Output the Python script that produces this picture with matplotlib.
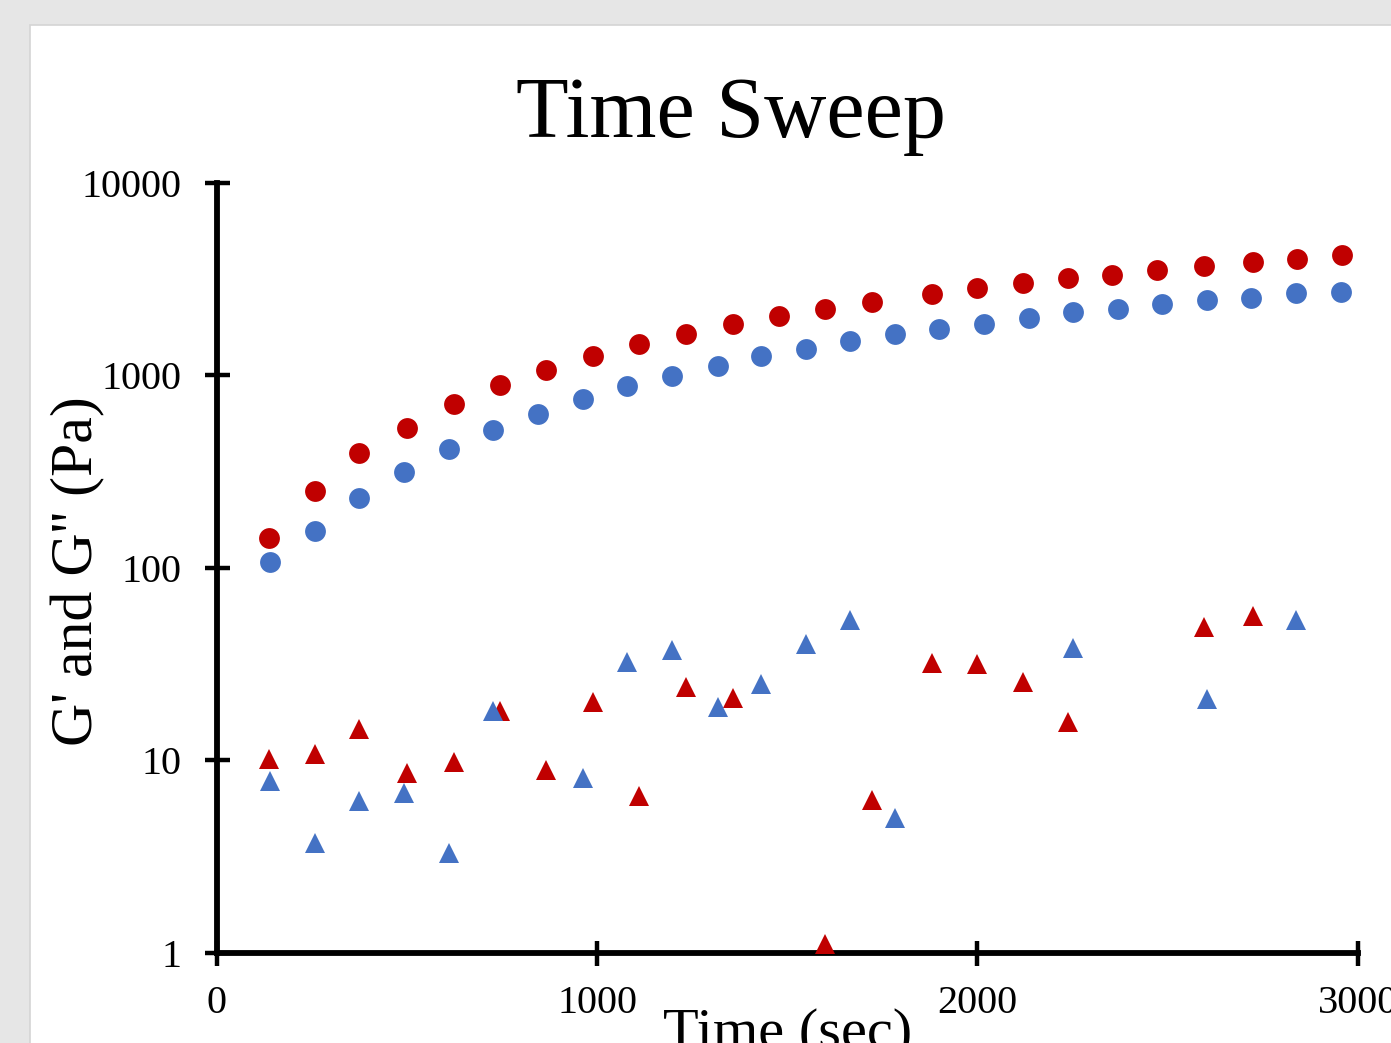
import numpy as np
import matplotlib
matplotlib.use('Agg')
import matplotlib.pyplot as plt
from matplotlib.patches import Rectangle
from matplotlib.ticker import NullLocator, FixedLocator, FixedFormatter

nan = np.nan

# ---- data ----
time_red = [138, 258, 375, 500, 623, 744, 865, 989, 1111, 1234, 1357, 1478,
            1600, 1723, 1880, 2000, 2121, 2238, 2355, 2473, 2595, 2724, 2841, 2960]
gp_red = [143, 250, 394, 534, 711, 889, 1069, 1262, 1452, 1643, 1838, 2031,
          2215, 2400, 2650, 2850, 3025, 3200, 3327, 3520, 3692, 3889, 4030, 4197]
gpp_red = [10.1, 10.8, 14.6, 8.6, 9.8, 18.1, 8.9, 20.1, 6.5, 24.1, 21.1, nan,
           1.11, 6.2, 32.1, 31.5, 25.5, 15.8, nan, nan, 49.4, 55.9, nan, nan]

time_blue = [139, 258, 375, 493, 611, 727, 846, 963, 1080, 1198, 1317, 1432,
             1550, 1666, 1784, 1900, 2018, 2136, 2252, 2370, 2486, 2604, 2720, 2839, 2956]
gp_blue = [107, 156, 229, 314, 414, 521, 626, 750, 879, 994, 1120, 1253,
           1373, 1506, 1637, 1745, 1852, 1990, 2130, 2207, 2343, 2466, 2528, 2673, 2716]
gpp_blue = [7.8, 3.72, 6.14, 6.77, 3.30, 18.1, nan, 8.08, 32.4, 37.5, 18.9, 24.9,
            40.2, 53.6, 5.02, nan, nan, nan, 38.4, nan, nan, 20.8, nan, 53.5, nan]

x_ticks = [0, 1000, 2000, 3000]
x_tick_labels = ['0', '1000', '2000', '3000']
y_ticks = [1, 10, 100, 1000, 10000]
y_tick_labels = ['1', '10', '100', '1000', '10000']

title = 'Time Sweep'
xlabel = 'Time (sec)'
ylabel = "G' and G'' (Pa)"

RED = '#C00000'
BLUE = '#4472C4'
FONT = 'Liberation Serif'

W, H = 1391, 1043
fig = plt.figure(figsize=(W / 100, H / 100), dpi=100)
fig.patch.set_facecolor('#e6e6e6')
fig.patches.append(Rectangle((30 / W, -0.1), 1.2, 1 - 25 / H + 0.1,
                             transform=fig.transFigure, facecolor='white',
                             edgecolor='#d4d4d4', linewidth=1.2, zorder=-5))

x0, x1 = 216.7, 1357.7
ytop, ybot = 182.7, 952.7
ax = fig.add_axes([x0 / W, 1 - ybot / H, (x1 - x0) / W, (ybot - ytop) / H])
ax.set_facecolor('none')
ax.set_zorder(2)

ms = 15
ax.plot(time_red, gp_red, 'o', color=RED, ms=ms, mew=0, clip_on=False, zorder=5)
ax.plot(time_red, gpp_red, '^', color=RED, ms=ms, mew=0, clip_on=False, zorder=5)
ax.plot(time_blue, gp_blue, 'o', color=BLUE, ms=ms, mew=0, clip_on=False, zorder=6)
ax.plot(time_blue, gpp_blue, '^', color=BLUE, ms=ms, mew=0, clip_on=False, zorder=6)

ax.set_yscale('log')
ax.set_xlim(0, 3000)
ax.set_ylim(1, 10000)
ax.yaxis.set_major_locator(FixedLocator(y_ticks))
ax.yaxis.set_major_formatter(FixedFormatter(y_tick_labels))
ax.yaxis.set_minor_locator(NullLocator())
ax.xaxis.set_major_locator(FixedLocator(x_ticks))
ax.xaxis.set_major_formatter(FixedFormatter(x_tick_labels))

for s in ['top', 'right']:
    ax.spines[s].set_visible(False)
for s in ['left', 'bottom']:
    ax.spines[s].set_linewidth(4.2)
    ax.spines[s].set_color('black')

ax.tick_params(axis='both', direction='inout', length=18, width=3.2, color='black')
ax.tick_params(axis='y', pad=16)
ax.tick_params(axis='x', pad=14)
for lab in ax.get_xticklabels() + ax.get_yticklabels():
    lab.set_fontfamily(FONT)
    lab.set_fontsize(29)

fig.text(731 / W, 1 - 137 / H, title, fontsize=62, family=FONT,
         ha='center', va='baseline')
fig.text((x0 + x1) / 2 / W, 1 - 1048 / H, xlabel, fontsize=42, family=FONT,
         ha='center', va='baseline')
fig.text(78 / W, 1 - 571 / H, ylabel, fontsize=43, family=FONT,
         ha='center', va='center', rotation=90)

fig.savefig('out.png', dpi=100)
